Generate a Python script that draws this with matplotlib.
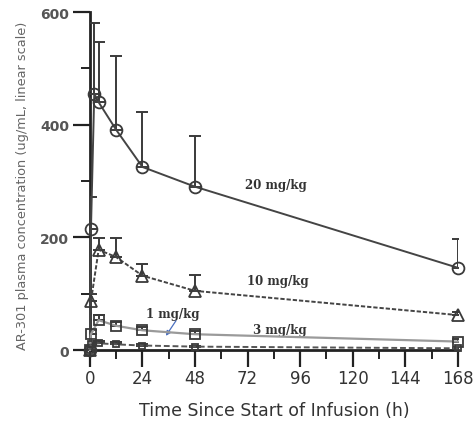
import matplotlib
matplotlib.use("Agg")
import matplotlib.pyplot as plt
import numpy as np

# ---- data ----
t_20 = [0, 0.5, 2, 4, 12, 24, 48, 168]
v_20 = [0, 215, 455, 440, 391, 325, 290, 146]
e_20 = [0, 57, 126, 107, 131, 98, 90, 51]

t_10 = [0, 0.5, 4, 12, 24, 48, 168]
v_10 = [0, 87, 178, 165, 132, 105, 62]
e_10 = [0, 13, 20, 34, 21, 28, 6]

t_3 = [0, 0.5, 4, 12, 24, 48, 168]
v_3 = [0, 28, 53, 43, 35, 28, 15]
e_3 = [0, 8, 10, 6, 5, 6, 4]

t_1 = [0, 0.5, 4, 12, 24, 48, 168]
v_1 = [0, 10, 12, 10, 8, 6, 3]
e_1 = [0, 3, 4, 4, 3, 2, 1]

x_ticks = [0, 24, 48, 72, 96, 120, 144, 168]
y_ticks = [0, 200, 400, 600]

labels = ["20 mg/kg", "10 mg/kg", "3 mg/kg", "1 mg/kg"]
label_pos = [(85, 293), (86, 123), (86.5, 37), (38, 64)]

fig = plt.figure(figsize=(4.73, 4.31), dpi=100)
ax = fig.add_axes([0.190, 0.1856, 0.778, 0.784])

dark = "#3a3a3a"

def draw(t, v, e, marker, ms, ls, color, lw=1.4):
    ax.errorbar(t, v, yerr=[np.zeros(len(e)), e], fmt="none", ecolor=dark,
                elinewidth=1.4, capsize=4.5, capthick=1.4, zorder=3)
    ax.plot(t, v, linestyle=ls, color=color, lw=lw, marker=marker, ms=ms,
            mfc="none", mec=dark, mew=1.3, clip_on=False, zorder=4)

draw(t_20, v_20, e_20, "o", 8.5, "-", "#444444")
draw(t_10, v_10, e_10, "^", 8, (0, (2.2, 1.0)), "#444444")
draw(t_3, v_3, e_3, "s", 7.5, "-", "#9a9a9a", lw=1.6)
draw(t_1, v_1, e_1, "s", 5, (0, (3, 1.5)), "#555555")

ax.set_xlim(0, 168)
ax.set_ylim(0, 600)
for s in ["top", "right"]:
    ax.spines[s].set_visible(False)
for s in ["left", "bottom"]:
    ax.spines[s].set_linewidth(2.0)
    ax.spines[s].set_color("#222222")

ax.set_xticks(x_ticks)
ax.set_xticks(np.arange(12, 168, 24), minor=True)
ax.set_yticks(y_ticks)
ax.set_yticks([100, 300, 500], minor=True)
ax.tick_params(axis="both", which="major", length=12, width=1.6, color="#222222", direction="out")
ax.tick_params(axis="both", which="minor", length=6.5, width=1.4, color="#222222", direction="out")
ax.set_xticklabels([str(x) for x in x_ticks], fontsize=12, color="#333333")
ax.set_yticklabels([str(y) for y in y_ticks], fontsize=10, fontweight="bold", color="#555555")
ax.tick_params(axis="x", pad=2)
ax.tick_params(axis="y", pad=3)

ax.set_xlabel("Time Since Start of Infusion (h)", fontsize=12.5, color="#333333", labelpad=10)
fig.text(0.047, 0.57, "AR-301 plasma concentration (ug/mL, linear scale)", rotation=90,
         fontsize=9.3, color="#666666", ha="center", va="center")

for lab, (x, y) in zip(labels, label_pos):
    ax.text(x, y, lab, fontsize=8.5, fontweight="bold", family="DejaVu Serif",
            color="#333333", ha="center", va="center")

ax.annotate("", xy=(34, 21), xytext=(40, 56),
            arrowprops=dict(arrowstyle="-|>", color="#4a6fc0", lw=0.9, mutation_scale=7))

fig.savefig("out.png", dpi=100)
